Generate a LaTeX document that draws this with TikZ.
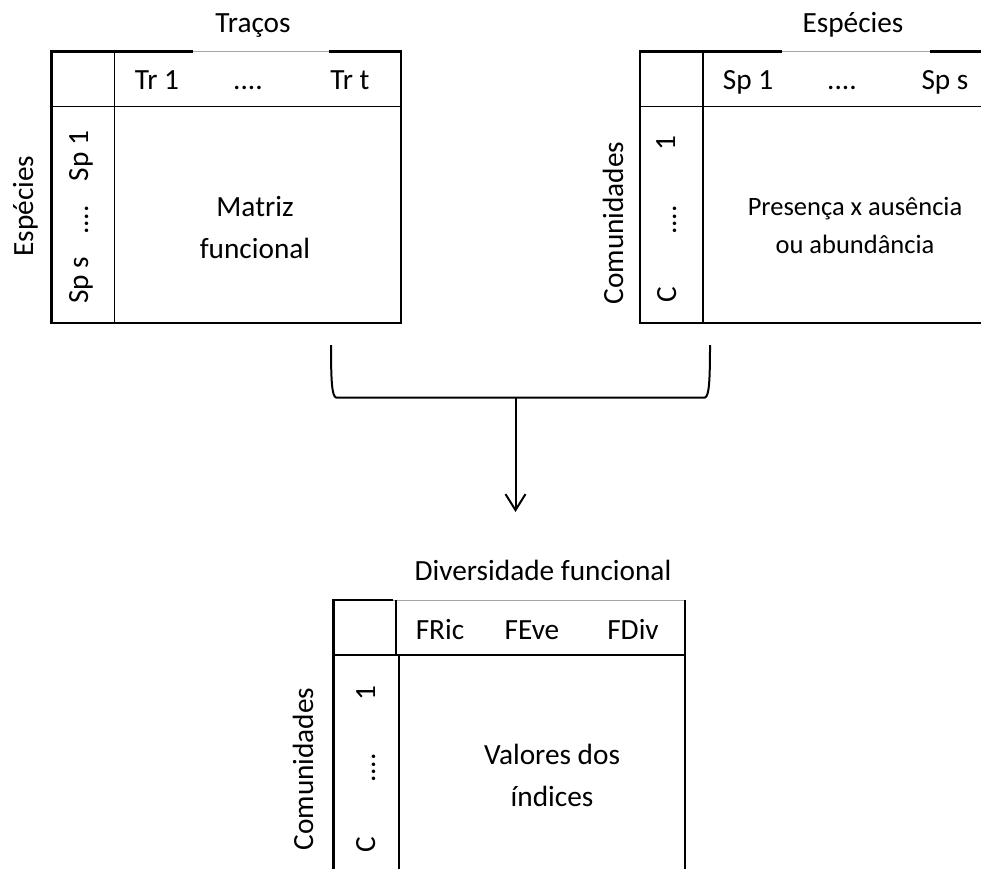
\documentclass[tikz,border=0pt]{standalone}
\usepackage{fontspec}
\setmainfont{Carlito}
\usetikzlibrary{arrows.meta}
\begin{document}
\begin{tikzpicture}[x=1pt,y=-1pt,
  txt/.style={font=\fontsize{29.3}{35}\selectfont, inner sep=0pt, anchor=base},
  stxt/.style={font=\fontsize{26.5}{31}\selectfont, inner sep=0pt, anchor=base},
  rtxt/.style={txt, rotate=90},
  outerline/.style={line width=2.2pt},
  innerline/.style={line width=1.6pt},
  greyline/.style={line width=0.8pt, draw=black!35},
  conn/.style={line width=2pt}]
\useasboundingbox (0,0) rectangle (981,869);

% ---------- Table 1: Matriz funcional ----------
\draw[outerline] (193,51.5) -- (51.5,51.5) -- (51.5,323) -- (401,323) -- (401,51.5) -- (329,51.5);
\draw[greyline] (193,51.5) -- (329,51.5);
\draw[innerline] (51.5,106.5) -- (401,106.5);
\draw[innerline] (114.5,51.5) -- (114.5,323);
\node[txt] (t1title) at (253,33) {Traços};
\node[txt] (t1h1) at (157,90) {Tr 1};
\node[txt] (t1h2) at (248,90) {....};
\node[txt] (t1h3) at (350,90) {Tr t};
\node[rtxt] (t1side) at (33,206) {Espécies};
\node[rtxt] (t1r1) at (88,156) {Sp 1};
\node[rtxt] (t1r2) at (88,220) {....};
\node[rtxt] (t1r3) at (88,280) {Sp s};
\node[txt] (t1b1) at (255,216.5) {Matriz};
\node[txt] (t1b2) at (255,258) {funcional};

% ---------- Table 2: Presença x ausência ----------
\draw[outerline] (782,51.5) -- (640,51.5) -- (640,323) -- (981,323);
\draw[outerline] (930,51.5) -- (981,51.5);
\draw[greyline] (782,51.5) -- (930,51.5);
\draw[innerline] (640,106.5) -- (981,106.5);
\draw[innerline] (703,51.5) -- (703,323);
\node[txt] (t2title) at (853,33) {Espécies};
\node[txt] (t2h1) at (748,90) {Sp 1};
\node[txt] (t2h2) at (842,90) {....};
\node[txt] (t2h3) at (945,90) {Sp s};
\node[rtxt] (t2side) at (623,223) {Comunidades};
\node[rtxt] (t2r1) at (675,143) {1};
\node[rtxt] (t2r2) at (676,220) {....};
\node[rtxt] (t2r3) at (676,295) {C};
\node[stxt] (t2b1) at (855,215) {Presença x ausência};
\node[stxt] (t2b2) at (855,253) {ou abundância};

% ---------- Bracket and arrow ----------
\coordinate (bl) at (331,345);
\coordinate (br) at (710,345);
\coordinate (bmid) at (515.5,397.5);
\coordinate (atip) at (515.5,512);
\draw[conn] (bl) .. controls (331,382) and (332,396) .. (336,397.5) -- (705,397.5) .. controls (709,396) and (710,382) .. (br);
\draw[conn, -{Straight Barb[length=16pt,width=20pt]}] (bmid) -- (atip);

% ---------- Table 3: Diversidade funcional ----------
\draw[outerline] (393,600) -- (333.5,600) -- (333.5,869);
\draw[greyline] (393,600) -- (685,600);
\draw[outerline] (685,600) -- (685,869);
\draw[innerline] (333.5,655) -- (685,655);
\draw[innerline] (396,600) -- (396,655);
\draw[innerline] (399,655) -- (399,869);
\node[txt] (t3title) at (543,580.5) {Diversidade funcional};
\node[txt] (t3h1) at (440,639) {FRic};
\node[txt] (t3h2) at (532,639) {FEve};
\node[txt] (t3h3) at (633,639) {FDiv};
\node[rtxt] (t3side) at (313,769) {Comunidades};
\node[rtxt] (t3r1) at (375,693) {1};
\node[rtxt] (t3r2) at (375,768) {....};
\node[rtxt] (t3r3) at (375,845) {C};
\node[txt] (t3b1) at (552,764) {Valores dos};
\node[txt] (t3b2) at (552,806.5) {índices};
\end{tikzpicture}
\end{document}
